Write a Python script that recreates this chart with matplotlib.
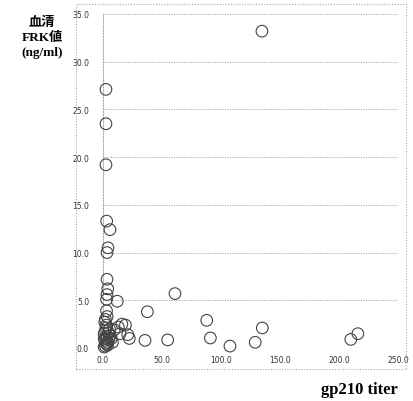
import matplotlib
matplotlib.use('Agg')
import matplotlib.pyplot as plt
from matplotlib.patches import Rectangle

# gp210 titer vs serum FRK values
titer = [134.7, 2.5, 2.5, 2.5, 3.1, 5.9, 4.2, 3.4, 3.4, 4.0, 3.4, 3.0,
         12.1, 3.0, 37.6, 61.0, 87.9, 91.0, 107.6, 35.6, 54.8,
         19.0, 22.3, 21.0, 14.4, 13.0, 16.0, 129.0, 135.0, 210.0, 216.0,
         1.0, 2.0, 3.0, 4.0, 1.5, 2.5, 5.0, 3.5, 1.0, 2.0, 4.5, 6.0,
         2.5, 3.0, 1.5, 5.5, 2.0, 3.5, 7.0, 8.0, 9.5, 4.0, 2.5, 1.0]
frk = [33.2, 27.1, 23.5, 19.2, 13.3, 12.4, 10.5, 10.0, 7.2, 6.2, 5.6, 5.1,
       4.9, 3.9, 3.8, 5.7, 2.9, 1.05, 0.2, 0.8, 0.85,
       2.4, 1.0, 1.4, 1.5, 2.2, 2.5, 0.6, 2.1, 0.9, 1.5,
       0.1, 0.2, 0.4, 0.6, 0.8, 1.0, 0.9, 1.2, 1.5, 1.8, 1.6, 1.3,
       2.1, 2.4, 2.7, 2.0, 3.0, 3.3, 1.0, 0.6, 1.9, 0.3, 0.5, 1.0]

xticks = [0, 50, 100, 150, 200, 250]
yticks = [0, 5, 10, 15, 20, 25, 30, 35]

fig = plt.figure(figsize=(4.14, 4.02), dpi=100)

# outer dotted frame of the chart area
fig.patches.append(Rectangle((76 / 414, 1 - 370 / 402), (406 - 76) / 414, (370 - 5) / 402,
                             transform=fig.transFigure, fill=False,
                             edgecolor='#aaaaaa', linestyle=(0, (1, 1.5)), linewidth=0.8))

ax = fig.add_axes([103 / 414, 1 - 349 / 402, (398 - 103) / 414, (349 - 15) / 402])
ax.scatter(titer, frk, s=70, facecolors='none', edgecolors='#444444',
           linewidths=0.8, clip_on=False, zorder=3)

ax.set_xlim(0, 250)
ax.set_ylim(0, 35)
ax.set_xticks(xticks)
ax.set_yticks(yticks)
ax.set_xticklabels([f'{v:.1f}' for v in xticks])
ax.set_yticklabels([f'{v:.1f}' for v in yticks])
ax.tick_params(length=0, labelsize=5.5, labelcolor='#333333', pad=10)
ax.tick_params(axis='x', pad=5)

for s in ['top', 'right', 'bottom']:
    ax.spines[s].set_visible(False)
ax.spines['left'].set_color('#aaaaaa')
ax.spines['left'].set_linestyle((0, (1, 1.5)))
ax.spines['left'].set_linewidth(0.8)

ax.yaxis.grid(True, color='#999999', linestyle=(0, (1, 1.5)), linewidth=0.7)
ax.set_axisbelow(True)

fig.text(42 / 414, 1 - 38 / 402, '血清\nFRK値\n(ng/ml)', ha='center', va='center',
         fontsize=9.5, fontweight='bold', linespacing=1.3,
         family=['Liberation Serif', 'Noto Sans CJK JP'])
fig.text(398 / 414, 1 - 390 / 402, 'gp210 titer', ha='right', va='center',
         fontsize=12, fontweight='bold', family='Liberation Serif')

fig.savefig('out.png', dpi=100)
